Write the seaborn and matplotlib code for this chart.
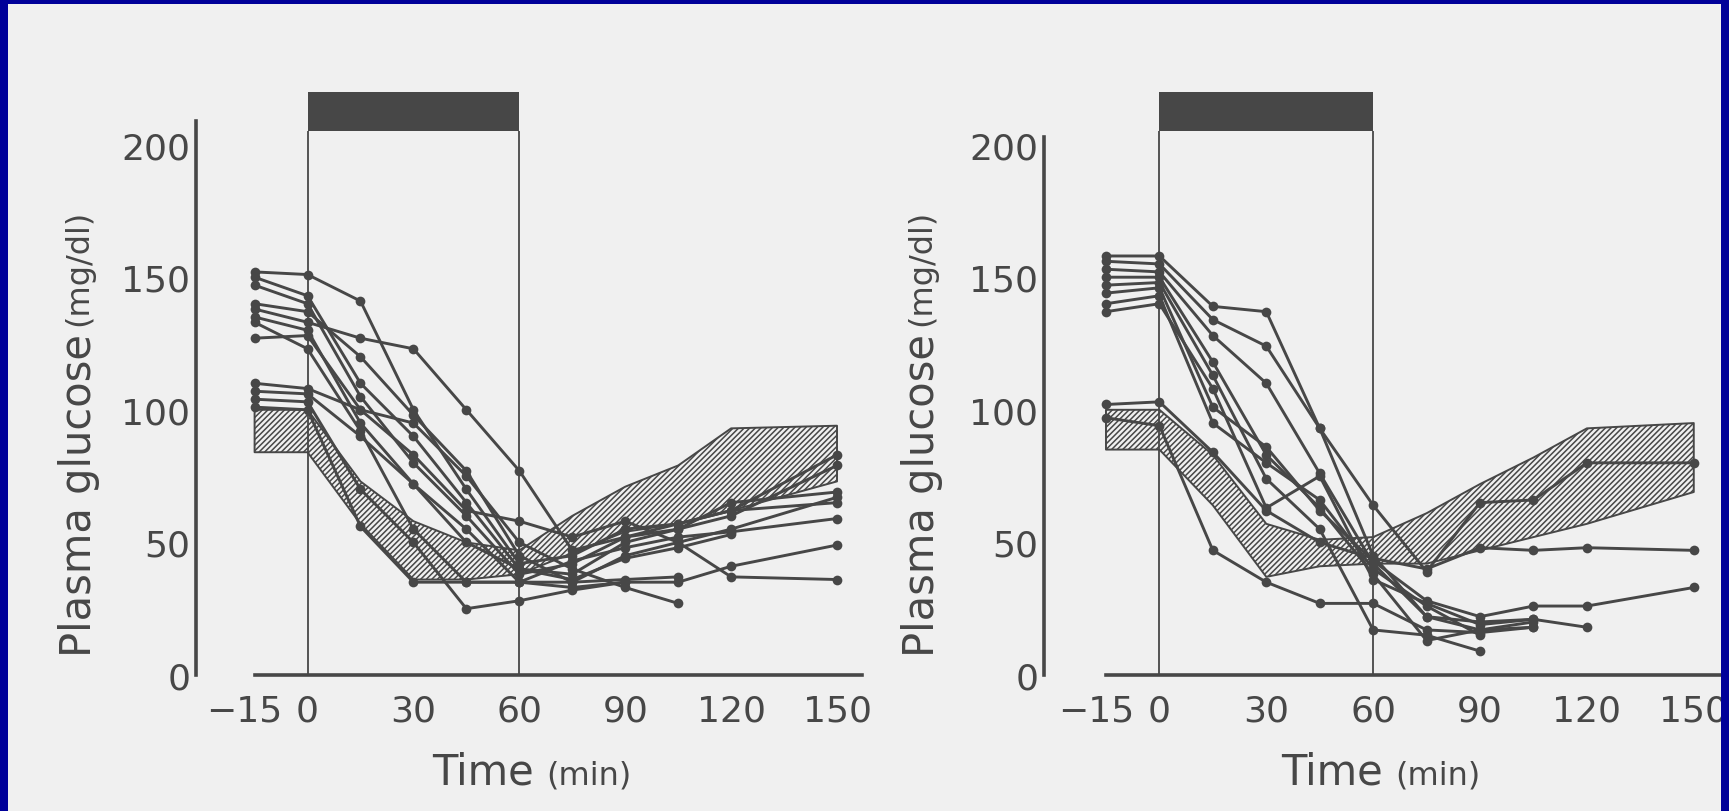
import numpy as np
import pandas as pd
import matplotlib
matplotlib.use("Agg")
import matplotlib.pyplot as plt
import matplotlib.transforms as mtransforms
from matplotlib.patches import Rectangle
import seaborn as sns

nan = np.nan

# sampling times (min) and axis ticks
TIMES = [-15, 0, 15, 30, 45, 60, 75, 90, 105, 120, 150]
X_TICKS = [-15, 0, 30, 60, 90, 120, 150]
X_TICK_LABELS = ["\u221215", "0", "30", "60", "90", "120", "150"]
Y_TICKS = [0, 50, 100, 150, 200]

# left panel: individual plasma glucose curves (mg/dl)
LEFT_GLUCOSE = [
    [152, 151, 141, 100, 70, 42, 45, 55, 57, 62, 83],
    [150, 143, 110, 90, 65, 40, 38, 50, 55, 60, 79],
    [147, 140, 105, 80, 60, 38, 42, 52, 55, 65, 69],
    [140, 137, 120, 98, 77, 45, 35, 45, 50, 55, 67],
    [138, 133, 127, 123, 100, 77, 47, 52, 57, 62, 65],
    [135, 130, 95, 72, 55, 35, 43, 48, 52, 54, 59],
    [133, 123, 92, 55, 35, 35, 33, 35, nan, nan, nan],
    [127, 128, 100, 83, 62, 58, 52, 58, 50, 37, 36],
    [110, 108, 100, 95, 75, 50, 40, 33, 27, nan, nan],
    [107, 106, 90, 72, 50, 40, 36, 44, 48, 53, nan],
    [104, 103, 70, 50, 25, 28, 32, 35, 35, 41, 49],
    [101, 100, 56, 35, 35, 35, 35, 36, 37, nan, nan],
]
LEFT_BAND_LOW = [84, 84, 57, 36, 36, 38, 46, 54, 57, 62, 73]
LEFT_BAND_HIGH = [100, 100, 73, 58, 50, 47, 60, 71, 79, 93, 94]

# right panel: individual plasma glucose curves (mg/dl)
RIGHT_GLUCOSE = [
    [158, 158, 139, 137, 93, 64, 39, 65, 66, 80, 80],
    [156, 155, 134, 124, 93, 45, 22, 20, 21, 18, nan],
    [153, 152, 128, 110, 76, 42, 22, 17, 20, nan, nan],
    [150, 150, 118, 83, 63, 38, 13, 17, 18, nan, nan],
    [147, 148, 113, 74, 55, 17, 15, 9, nan, nan, nan],
    [144, 146, 101, 86, 62, 43, 28, 22, 26, 26, 33],
    [140, 143, 95, 80, 66, 40, 26, 15, nan, nan, nan],
    [137, 140, 108, 63, 75, 36, 27, 19, 21, nan, nan],
    [102, 103, 84, 62, 50, 44, 40, 48, 47, 48, 47],
    [97, 94, 47, 35, 27, 27, 17, 16, 18, nan, nan],
]
RIGHT_BAND_LOW = [85, 85, 64, 37, 41, 42, 42, 47, 52, 57, 69]
RIGHT_BAND_HIGH = [100, 100, 83, 57, 51, 52, 61, 72, 82, 93, 95]

INFUSION = [0, 60]
INFUSION_BAR = [205, 220]

INK = "#474747"
PAPER = "#f0f0f0"
BLUE = "#000099"
W, H = 1729, 812


def long_frame(curves):
    rows = []
    for i, series in enumerate(curves):
        for t, v in zip(TIMES, series):
            if not np.isnan(v):
                rows.append({"time": t, "glucose": v, "subject": i})
    return pd.DataFrame(rows)


def px_axes(fig, left, bottom, right, top):
    return fig.add_axes([left / W, bottom / H, (right - left) / W, (top - bottom) / H])


def draw_panel(fig, ax, curves, band_low, band_high, xlim, y_top, x_end):
    ax.set_facecolor("none")
    ax.fill_between(TIMES, band_low, band_high, facecolor="none", edgecolor=INK,
                    hatch="//////", linewidth=1.4, zorder=1)
    ax.add_patch(Rectangle((INFUSION[0], INFUSION_BAR[0]), INFUSION[1] - INFUSION[0],
                           INFUSION_BAR[1] - INFUSION_BAR[0], color=INK, lw=0, zorder=2))
    ax.vlines(INFUSION, 0, INFUSION_BAR[0], color=INK, lw=1.3, zorder=2)
    sns.lineplot(data=long_frame(curves), x="time", y="glucose", units="subject",
                 estimator=None, color=INK, lw=2.1, marker="o", markersize=7,
                 markeredgewidth=0, legend=False, ax=ax, zorder=3)
    ax.set_xlim(*xlim)
    ax.set_ylim(0, 225)
    ax.set_xlabel("")
    ax.set_ylabel("")
    sns.despine(ax=ax)
    for side in ("left", "bottom"):
        ax.spines[side].set_color(INK)
        ax.spines[side].set_linewidth(2.6)
    ax.spines["left"].set_bounds(0, y_top)
    ax.spines["bottom"].set_bounds(-15, x_end)
    ax.set_xticks(X_TICKS)
    ax.set_xticklabels(X_TICK_LABELS)
    ax.set_yticks(Y_TICKS)
    ax.tick_params(axis="y", direction="in", length=10, width=2, color=INK,
                   labelsize=26, labelcolor=INK, pad=4)
    ax.tick_params(axis="x", direction="in", length=12, width=2, color=INK,
                   labelsize=26, labelcolor=INK, pad=13)
    # the printed "-15" label sits a little left of its tick
    first = ax.get_xticklabels()[0]
    first.set_transform(first.get_transform() +
                        mtransforms.ScaledTranslation(-10 / 100, 0, fig.dpi_scale_trans))


def axis_titles(fig, ylab_x, time_x):
    junction = H - 330
    fig.text(ylab_x / W, (junction - 4) / H, "Plasma glucose", rotation=90,
             ha="center", va="top", fontsize=30, color=INK)
    fig.text(ylab_x / W, (junction + 4) / H, "(mg/dl)", rotation=90,
             ha="center", va="bottom", fontsize=23, color=INK)
    base = 27
    fig.text((time_x - 6) / W, base / H, "Time", ha="right", va="baseline",
             fontsize=30, color=INK)
    fig.text((time_x + 6) / W, base / H, "(min)", ha="left", va="baseline",
             fontsize=23, color=INK)


sns.set_theme(style="white")
plt.rcParams["font.family"] = ["DejaVu Sans"]
plt.rcParams["hatch.linewidth"] = 1.1

fig = plt.figure(figsize=(W / 100, H / 100), dpi=100, facecolor=PAPER)

ax_left = px_axes(fig, 196, 136, 872.3, 732.7)
draw_panel(fig, ax_left, LEFT_GLUCOSE, LEFT_BAND_LOW, LEFT_BAND_HIGH,
           (-31.6, 160), 209, 157)

ax_right = px_axes(fig, 1044, 136, 1747.2, 732.7)
draw_panel(fig, ax_right, RIGHT_GLUCOSE, RIGHT_BAND_LOW, RIGHT_BAND_HIGH,
           (-32.4, 165), 203, 165)

axis_titles(fig, 79, 540)
axis_titles(fig, 922, 1389)

# blue slide frame drawn over the scan
for rect in [(0, 0, 8, H), (W - 8, 0, 8, H), (0, H - 5, W, 5)]:
    fig.add_artist(Rectangle((rect[0] / W, rect[1] / H), rect[2] / W, rect[3] / H,
                             transform=fig.transFigure, color=BLUE, lw=0, zorder=10))

fig.savefig("out.png", dpi=100, facecolor=PAPER)
